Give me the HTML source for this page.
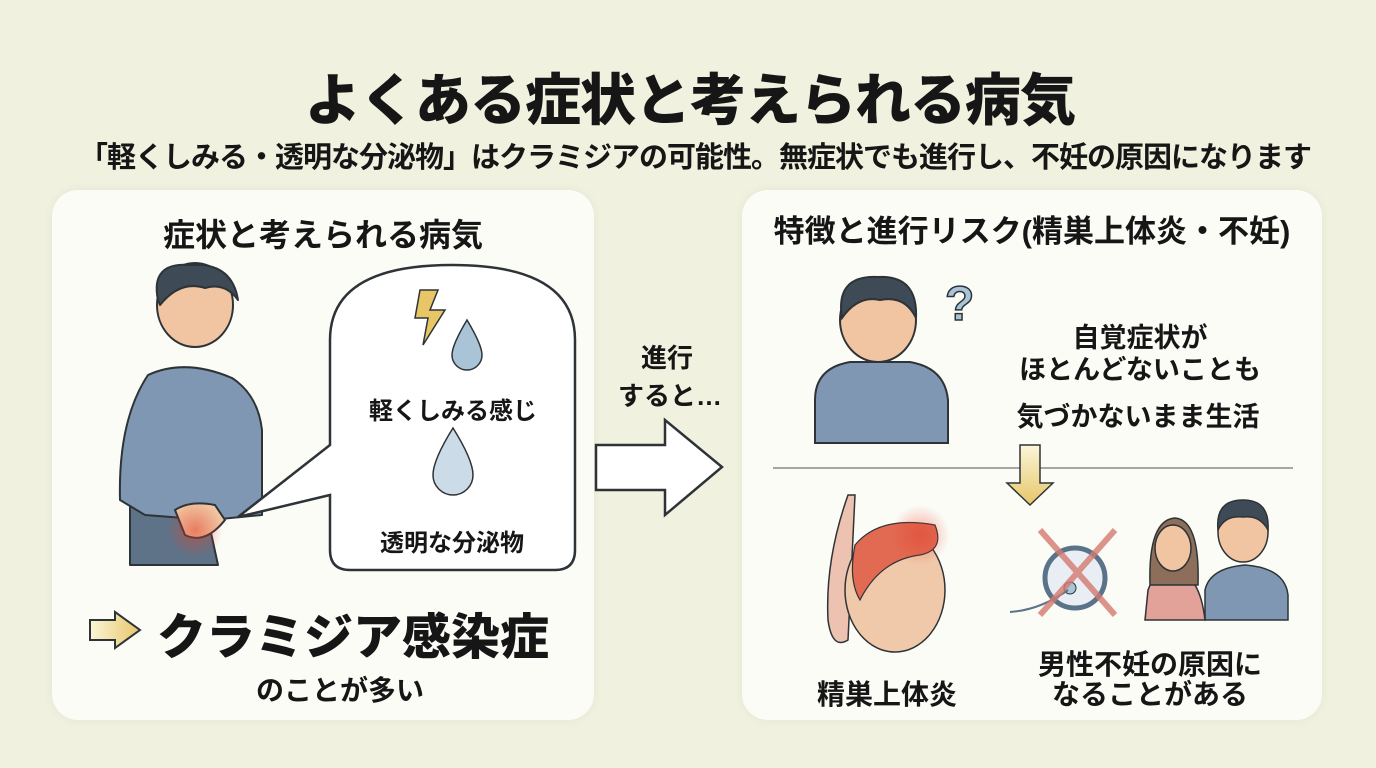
<!DOCTYPE html>
<html><head><meta charset="utf-8"><style>
body{margin:0;width:1376px;height:768px;overflow:hidden;background:#f0f1df;font-family:"Liberation Sans","Noto Sans CJK JP",sans-serif;color:#161616;position:relative}
.t{position:absolute;white-space:nowrap;font-weight:bold;transform:translateX(-50%)}
.panel{position:absolute;background:#fcfcf7;border-radius:26px;box-shadow:0 0 10px rgba(0,0,0,0.05)}
svg{position:absolute;left:0;top:0}
</style></head><body>
<div class="panel" style="left:52px;top:190px;width:542px;height:530px"></div>
<div class="panel" style="left:742px;top:190px;width:580px;height:530px"></div>

<div class="t" style="left:690px;top:56px;font-size:56px;font-weight:900;letter-spacing:-1px">よくある症状と考えられる病気</div>
<div class="t" style="left:695px;top:134px;font-size:29px;letter-spacing:-1px">「軽くしみる・透明な分泌物」はクラミジアの可能性。無症状でも進行し、不妊の原因になります</div>

<div class="t" style="left:323px;top:210px;font-size:32px">症状と考えられる病気</div>
<div class="t" style="left:1032px;top:206px;font-size:31px">特徴と進行リスク(精巣上体炎・不妊)</div>

<svg width="1376" height="768" viewBox="0 0 1376 768">
<defs>
<radialGradient id="red"><stop offset="0" stop-color="#e0402a" stop-opacity=".9"/><stop offset="1" stop-color="#e0402a" stop-opacity="0"/></radialGradient>
<linearGradient id="yel" x1="0" x2="0" y1="0" y2="1"><stop offset="0" stop-color="#fbf6d8"/><stop offset="1" stop-color="#e6c669"/></linearGradient>
<linearGradient id="yelh" x1="0" x2="1"><stop offset="0" stop-color="#fbf6d8"/><stop offset="1" stop-color="#e6c669"/></linearGradient>
</defs>
<g stroke="#2d3336" stroke-width="2" stroke-linejoin="round">
<path d="M130 565 L130 505 L205 505 L218 565 Z" fill="#5f7388"/>
<path d="M148 375 Q185 358 232 378 Q258 395 262 430 L262 515 L210 520 L145 515 L120 500 Q118 420 148 375Z" fill="#7f97b3"/>
<ellipse cx="195" cy="305" rx="38" ry="42" fill="#f1c5a1"/>
<path d="M158 300 Q150 262 190 265 Q232 262 238 300 Q225 282 205 288 Q180 280 160 305Z" fill="#3e4a55"/>
<path d="M175 510 Q190 500 215 505 L225 520 Q205 545 185 535 Z" fill="#f1c5a1"/>
</g>
<circle cx="195" cy="530" r="28" fill="url(#red)" opacity=".6"/>
<path d="M330 340 Q330 265 452 265 Q575 265 575 340 L575 550 Q575 570 555 570 L350 570 Q330 570 330 550 L330 495 L238 517 L330 445 Z" fill="#fff" stroke="#2d3336" stroke-width="2.5"/>
<path d="M420 290 L438 290 L430 310 L445 310 L423 345 L428 318 L415 318Z" fill="#e8c567" stroke="#2d3336" stroke-width="1.5"/>
<path d="M467 320 Q482 345 482 355 A15 15 0 0 1 452 355 Q452 345 467 320Z" fill="#a9c4d7" stroke="#2d3336" stroke-width="1.5"/>
<path d="M453 428 Q473 460 473 475 A20 20 0 0 1 433 475 Q433 460 453 428Z" fill="#cbdbe7" stroke="#2d3336" stroke-width="1.5"/>
<path d="M596 445 L665 445 L665 420 L722 467 L665 515 L665 490 L596 490 Z" fill="#fff" stroke="#2d3336" stroke-width="2.5"/>
<path d="M90 620 L115 620 L115 612 L140 630 L115 648 L115 640 L90 640 Z" fill="url(#yelh)" stroke="#2d3336" stroke-width="2"/>
<g stroke="#2d3336" stroke-width="2">
<path d="M815 443 L815 400 Q815 368 850 362 L910 362 Q945 368 948 400 L948 443Z" fill="#7f97b3"/>
<ellipse cx="878" cy="320" rx="38" ry="42" fill="#f1c5a1"/>
<path d="M842 318 Q835 275 878 277 Q918 275 916 318 Q905 295 880 300 Q858 295 842 318Z" fill="#3e4a55"/>
</g>
<text x="945" y="320" font-size="48" fill="#a9c4d7" stroke="#2d3336" stroke-width="1.5" font-family="Liberation Sans" font-weight="bold">?</text>
<line x1="773" y1="468" x2="1293" y2="468" stroke="#8a8a8a" stroke-width="1.5"/>
<path d="M1020 445 L1040 445 L1040 483 L1053 483 L1030 505 L1007 483 L1020 483Z" fill="url(#yel)" stroke="#2d3336" stroke-width="1.5"/>
<path d="M848 495 Q825 560 828 620 Q832 650 848 640 L855 495Z" fill="#edc2b0" stroke="#2d3336" stroke-width="1.5"/>
<ellipse cx="895" cy="590" rx="50" ry="62" fill="#f0c9aa" stroke="#2d3336" stroke-width="1.5"/>
<path d="M855 545 Q880 515 935 525 Q945 550 920 555 Q880 560 860 600 Q848 580 855 545Z" fill="#e26a52" stroke="#2d3336" stroke-width="1.2"/>
<circle cx="920" cy="535" r="30" fill="url(#red)" opacity=".5"/>
<circle cx="1075" cy="578" r="30" fill="#e8eef3" stroke="#5a7388" stroke-width="5"/>
<circle cx="1070" cy="588" r="6" fill="#a9c4d7" stroke="#2d3336"/>
<path d="M1068 590 Q1040 610 1010 612" stroke="#5a7388" stroke-width="2" fill="none"/>
<path d="M1040 530 L1115 615 M1115 530 L1040 615" stroke="#d47a70" stroke-width="6" opacity=".8"/>
<g stroke="#2d3336" stroke-width="1.5">
<path d="M1205 620 L1205 590 Q1210 568 1245 565 Q1285 568 1288 595 L1288 620Z" fill="#7f97b3"/>
<ellipse cx="1243" cy="532" rx="25" ry="30" fill="#f1c5a1"/>
<path d="M1218 530 Q1215 500 1243 500 Q1270 500 1268 530 Q1260 515 1243 517 Q1225 515 1218 530Z" fill="#3e4a55"/>
<path d="M1145 620 L1148 590 Q1155 570 1175 570 Q1200 575 1205 620Z" fill="#e2a199"/>
<path d="M1150 585 Q1148 520 1175 518 Q1200 520 1198 585Z" fill="#8d6e5a"/>
<ellipse cx="1173" cy="548" rx="18" ry="23" fill="#f1c5a1"/>
</g>
</svg>

<div class="t" style="left:453px;top:391px;font-size:24px">軽くしみる感じ</div>
<div class="t" style="left:452px;top:523px;font-size:24px">透明な分泌物</div>
<div class="t" style="left:353px;top:598px;font-size:49px;font-weight:900">クラミジア感染症</div>
<div class="t" style="left:340px;top:669px;font-size:28px">のことが多い</div>

<div class="t" style="left:667px;top:338px;font-size:26px">進行</div>
<div class="t" style="left:670px;top:376px;font-size:26px">すると…</div>

<div class="t" style="left:1140px;top:316px;font-size:27px">自覚症状が</div>
<div class="t" style="left:1140px;top:348px;font-size:27px">ほとんどないことも</div>
<div class="t" style="left:1138px;top:395px;font-size:27px">気づかないまま生活</div>
<div class="t" style="left:887px;top:673px;font-size:28px">精巣上体炎</div>
<div class="t" style="left:1150px;top:643px;font-size:28px">男性不妊の原因に</div>
<div class="t" style="left:1150px;top:673px;font-size:28px">なることがある</div>
</body></html>
